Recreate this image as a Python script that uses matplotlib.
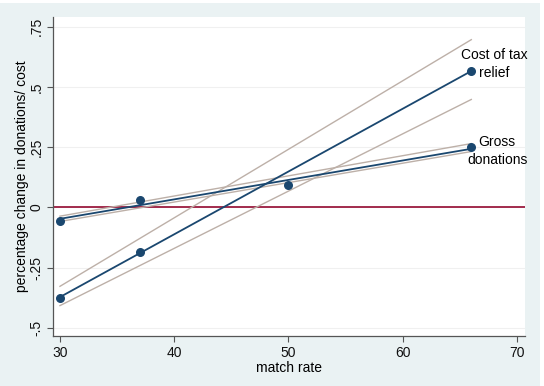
import numpy as np
import matplotlib
matplotlib.use("Agg")
import matplotlib.pyplot as plt
from matplotlib.patches import Rectangle

plt.rcParams['font.family'] = ['Liberation Sans', 'DejaVu Sans']

# Data
gross_x = [30, 37, 50, 66]
gross_y = [-0.055, 0.03, 0.095, 0.25]
cost_x = [30, 37, 66]
cost_y = [-0.375, -0.185, 0.565]

ci_x = [30, 66]
gross_ci_upper = [-0.036, 0.265]
gross_ci_lower = [-0.058, 0.232]
cost_ci_upper = [-0.327, 0.696]
cost_ci_lower = [-0.407, 0.448]

x_ticks = [30, 40, 50, 60, 70]
y_ticks = [-0.5, -0.25, 0, 0.25, 0.5, 0.75]
y_tick_labels = ["-.5", "-.25", "0", ".25", ".5", ".75"]

navy = "#1a476f"
ci_col = "#bdb0a8"
zero_col = "#9b1b3f"
bg = "#eaf2f3"

W, H = 544, 386
fig = plt.figure(figsize=(W / 100, H / 100), dpi=100, facecolor="white")
fig.patches.append(Rectangle((0, 0), 540 / W, 383 / H, transform=fig.transFigure,
                             facecolor=bg, edgecolor="none", zorder=-10))

left, right, top, bottom = 53, 525, 17, 336
ax = fig.add_axes([left / W, 1 - bottom / H, (right - left) / W, (bottom - top) / H])
ax.set_facecolor("white")
ax.set_xlim(29.39, 70.7)
ax.set_ylim(-0.533, 0.79)

for yt in y_ticks:
    ax.axhline(yt, color="#f0f0f0", lw=0.8, zorder=0)
ax.axhline(0, color=zero_col, lw=1.3, zorder=1)


def fit(xs, ys):
    xs = np.asarray(xs, float)
    ys = np.asarray(ys, float)
    b, a = np.polyfit(xs, ys, 1)
    xx = np.array([xs.min(), xs.max()])
    return xx, a + b * xx


ax.plot(ci_x, cost_ci_upper, color=ci_col, lw=1.0, zorder=2)
ax.plot(ci_x, cost_ci_lower, color=ci_col, lw=1.0, zorder=2)
ax.plot(ci_x, gross_ci_upper, color=ci_col, lw=1.0, zorder=2)
ax.plot(ci_x, gross_ci_lower, color=ci_col, lw=1.0, zorder=2)

fx, fy = fit(gross_x, gross_y)
ax.plot(fx, fy, color=navy, lw=1.3, zorder=3)
fx, fy = fit(cost_x, cost_y)
ax.plot(fx, fy, color=navy, lw=1.3, zorder=3)

ax.scatter(gross_x, gross_y, s=30, color=navy, zorder=4)
ax.scatter(cost_x, cost_y, s=30, color=navy, zorder=4)

ax.annotate("Cost of tax\nrelief", (cost_x[-1], cost_y[-1]), xytext=(23, 7),
            textcoords="offset pixels", ha="center", va="center", fontsize=10,
            linespacing=1.35)
ax.annotate("Gross\ndonations", (gross_x[-1], gross_y[-1]), xytext=(26, -4),
            textcoords="offset pixels", ha="center", va="center", fontsize=10,
            linespacing=1.35)

for s in ["top", "right"]:
    ax.spines[s].set_visible(False)
for s in ["left", "bottom"]:
    ax.spines[s].set_color("#555555")
    ax.spines[s].set_linewidth(0.9)

ax.set_xticks(x_ticks)
ax.set_yticks(y_ticks)
ax.set_yticklabels(y_tick_labels, rotation=90, va="center")
ax.tick_params(axis="both", direction="out", length=4, width=0.8, color="#555555",
               labelsize=10, labelcolor="#111111", pad=3)
ax.set_xlabel("match rate", fontsize=10, labelpad=1)
ax.set_ylabel("percentage change in donations/ cost", fontsize=10, labelpad=0)

fig.savefig("out.png", dpi=100, facecolor="white")
